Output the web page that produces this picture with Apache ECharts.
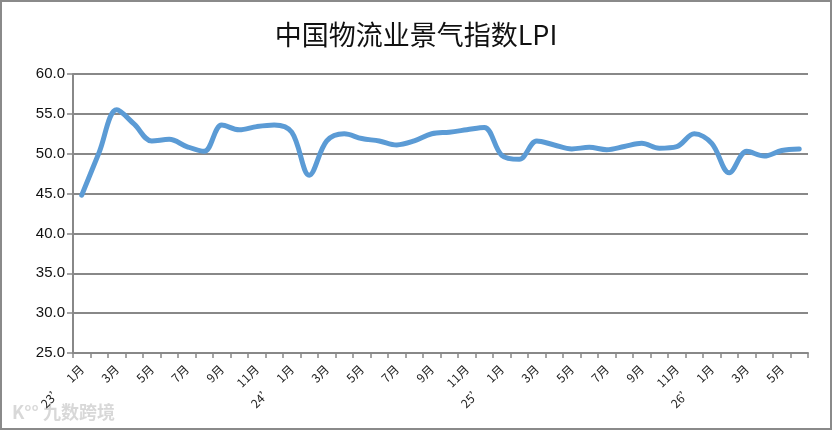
<!DOCTYPE html>
<html>
<head>
<meta charset="utf-8">
<script src="https://cdn.jsdelivr.net/npm/echarts@6/dist/echarts.min.js"></script>
<style>
html,body{margin:0;padding:0;background:#fff;}
#c{width:832px;height:430px;box-sizing:border-box;border:2px solid #8a8a8a;}
</style>
</head>
<body>
<div id="c"></div>
<script>
var years = ['23', '24', '25', '26'];
var months = ['1月','2月','3月','4月','5月','6月','7月','8月','9月','10月','11月','12月'];
var lpiValues = [
  44.8, 50.2, 55.5, 53.7, 51.6, 51.8, 50.9, 50.3, 53.6, 53.0, 53.4, 53.6,
  52.7, 47.3, 51.6, 52.5, 51.9, 51.6, 51.1, 51.6, 52.5, 52.7, 53.0, 53.3,
  49.8, 49.3, 51.6, 51.1, 50.6, 50.8, 50.5, 50.9, 51.3, 50.7, 50.9, 52.5,
  51.3, 47.6, 50.3, 49.7, 50.4, 50.6
];
var yTicks = [25, 30, 35, 40, 45, 50, 55, 60];

var categories = [];
for (var i = 0; i < lpiValues.length; i++) {
  var m = i % 12;
  var y = Math.floor(i / 12);
  categories.push(m === 0 ? years[y] + '’    ' + months[m] : months[m]);
}

var chart = echarts.init(document.getElementById('c'));
chart.setOption({
  animation: false,
  title: {
    text: '中国物流业景气指数LPI',
    left: 'center',
    top: 14,
    textStyle: {
      fontFamily: 'Noto Sans CJK SC',
      fontSize: 27,
      fontWeight: 'normal',
      color: '#111'
    }
  },
  grid: { left: 71, right: 22, top: 72, bottom: 75, containLabel: false },
  xAxis: {
    type: 'category',
    data: categories,
    boundaryGap: true,
    axisLine: { lineStyle: { color: '#888', width: 2 } },
    axisTick: { show: true, interval: 0, length: 5, lineStyle: { color: '#888', width: 1.5 } },
    axisLabel: {
      interval: 1,
      rotate: 45,
      fontFamily: 'Noto Sans CJK SC',
      fontSize: 12,
      color: '#222',
      margin: 14
    }
  },
  yAxis: {
    type: 'value',
    min: yTicks[0],
    max: yTicks[yTicks.length - 1],
    interval: 5,
    axisLine: { show: true, lineStyle: { color: '#888', width: 2 } },
    axisTick: { show: true, length: 6, lineStyle: { color: '#888', width: 1.5 } },
    splitLine: { lineStyle: { color: '#888', width: 2 } },
    axisLabel: {
      formatter: function (v) { return v.toFixed(1); },
      fontFamily: 'Liberation Sans',
      fontSize: 15,
      color: '#111',
      margin: 8
    }
  },
  series: [{
    type: 'line',
    data: lpiValues,
    smooth: 0.35,
    symbol: 'none',
    lineStyle: { color: '#5b9bd5', width: 5, cap: 'round', join: 'round' }
  }],
  graphic: [{
    type: 'text',
    left: 10,
    top: 401,
    style: {
      text: 'K°° 九数跨境',
      fill: 'rgba(190,190,190,0.6)',
      font: 'bold 18px "Noto Sans CJK SC"'
    }
  }]
});
</script>
</body>
</html>
